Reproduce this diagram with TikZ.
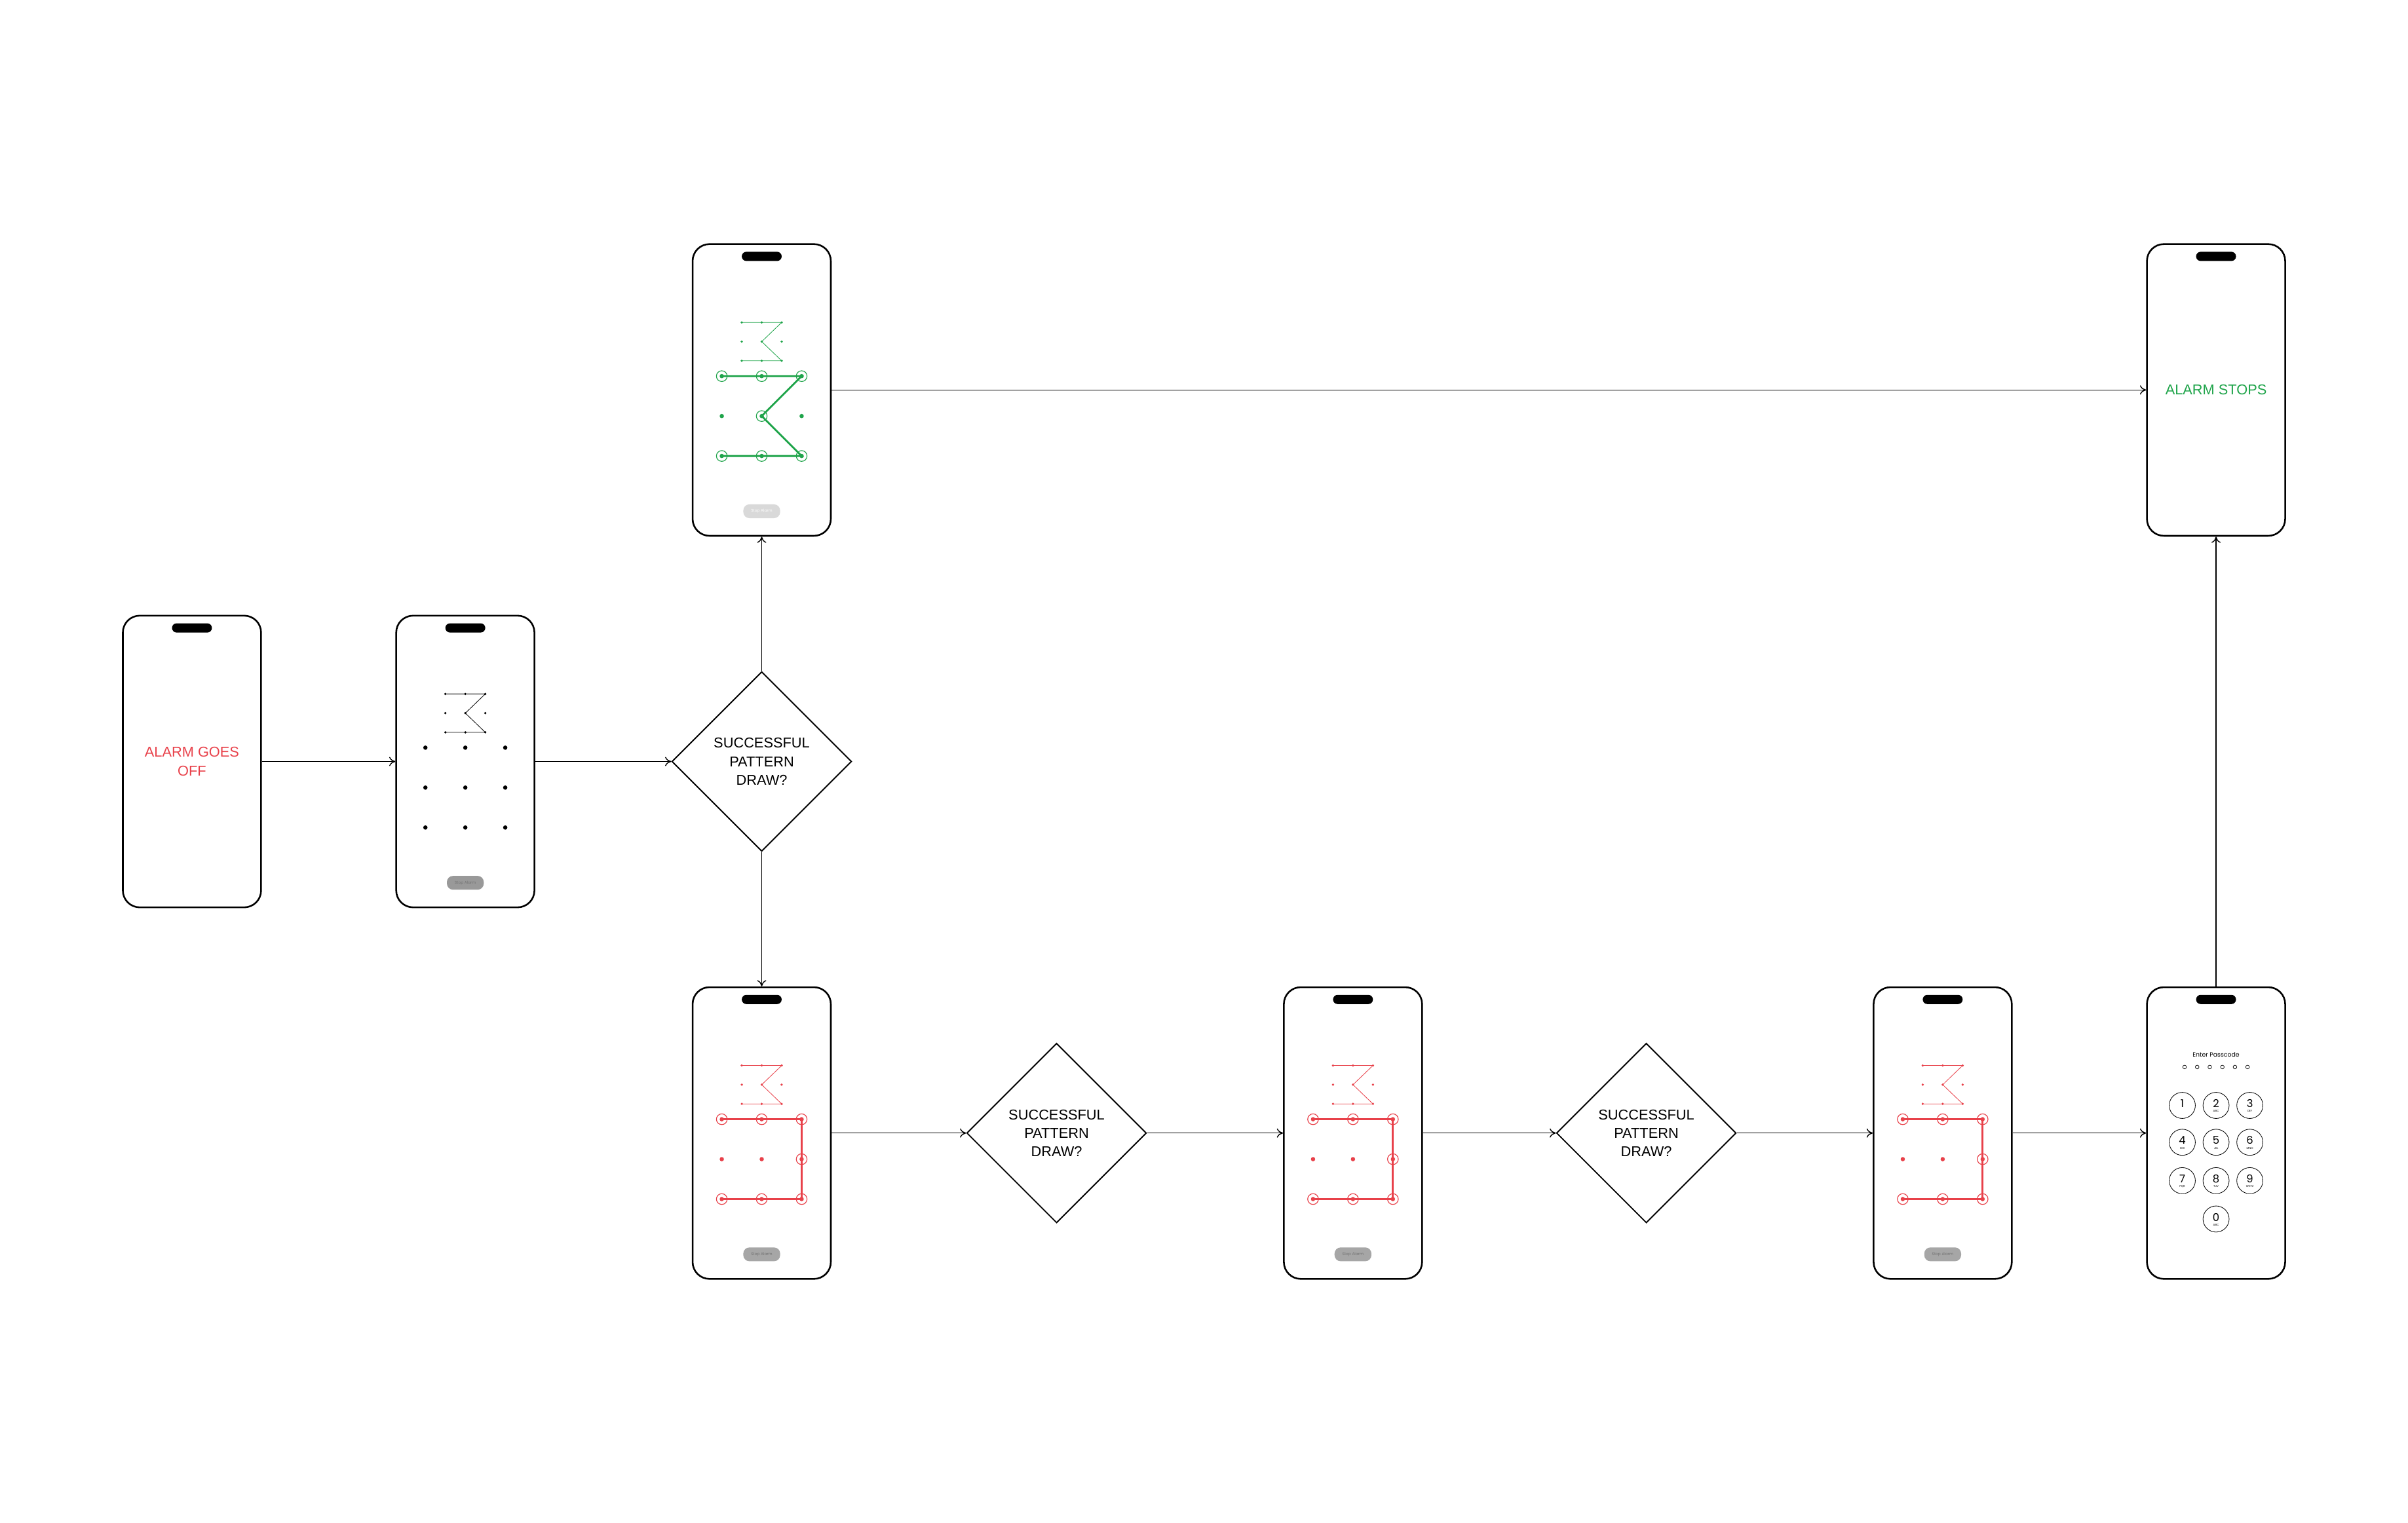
\documentclass[tikz,border=0pt]{standalone}
\usepackage{fontspec}
\setmainfont{Liberation Sans}
\newfontfamily\popf{Poppins}
\usetikzlibrary{shapes.geometric,arrows.meta}
\definecolor{gr}{HTML}{1FA44A}
\definecolor{rd}{HTML}{E8414A}
\tikzset{
 phone/.style={draw,line width=1.1pt,rounded corners=11pt,minimum width=90pt,minimum height=190pt,inner sep=0pt},
 conn/.style={line width=0.6pt,-{To[length=4pt,width=6pt]}},
 dia/.style={draw,diamond,line width=0.8pt,minimum width=117pt,minimum height=117pt,inner sep=0pt,align=center,font=\fontsize{9.3}{12}\selectfont},
 key/.style={draw,circle,line width=0.35pt,minimum size=17pt,inner sep=0pt}
}
\newcommand{\myphone}[3]{\node[phone] (#1) at (#2,#3) {};
 \fill[rounded corners=3pt] (#2-13,#3-90) rectangle (#2+13,#3-84);}
\newcommand{\minipat}[3]{\begin{scope}[shift={(#1,#2)}]
 \draw[#3,line width=0.35pt] (-13,-44)--(13,-44)--(0,-31.5)--(13,-19)--(-13,-19);
 \foreach \x in {-13,0,13}\foreach \y in {-44,-31.5,-19}{\fill[#3] (\x,\y) circle (0.8);}
\end{scope}}
\newcommand{\bigdots}[3]{\begin{scope}[shift={(#1,#2)}]
 \foreach \x in {-26,0,26}\foreach \y in {-9,17,43}{\fill[#3] (\x,\y) circle (1.4);}\end{scope}}
\newcommand{\stopbtn}[4]{\node[fill=#3,rounded corners=4pt,minimum width=24pt,minimum height=9pt,inner sep=0pt,text=#4,font=\popf\fontsize{2.5}{3}\selectfont] at (#1,#2+79) {Stop Alarm};}
\newcommand{\redphone}[3]{\myphone{#1}{#2}{#3}
 \minipat{#2}{#3}{rd}\bigdots{#2}{#3}{rd}
 \begin{scope}[shift={(#2,#3)}]
 \draw[rd,line width=1.2pt] (-26,-9)--(26,-9)--(26,43)--(-26,43);
 \foreach \p in {(-26,-9),(0,-9),(26,-9),(26,17),(-26,43),(0,43),(26,43)}{\draw[rd,line width=0.5pt] \p circle (3.5);}
 \end{scope}
 \stopbtn{#2}{#3}{black!35}{black!55}}
\begin{document}
\begin{tikzpicture}[x=1pt,y=-1pt]
\useasboundingbox (0,0) rectangle (1568,992);
\myphone{p1}{125}{496}
\node[text=rd,align=center,font=\fontsize{9.3}{12}\selectfont] at (125,496) {ALARM GOES\\OFF};
\myphone{p2}{303}{496}
\minipat{303}{496}{black}\bigdots{303}{496}{black}
\stopbtn{303}{496}{black!40}{black!55}
\myphone{ok}{496}{254}
\minipat{496}{254}{gr}\bigdots{496}{254}{gr}
\begin{scope}[shift={(496,254)}]
 \draw[gr,line width=1.2pt] (-26,-9)--(26,-9)--(0,17)--(26,43)--(-26,43);
 \foreach \p in {(-26,-9),(0,-9),(26,-9),(0,17),(-26,43),(0,43),(26,43)}{\draw[gr,line width=0.5pt] \p circle (3.5);}
\end{scope}
\stopbtn{496}{254}{black!15}{white}
\myphone{st}{1443}{254}
\node[text=gr,font=\fontsize{9.3}{11}\selectfont] at (1443,254) {ALARM STOPS};
\redphone{r1}{496}{738}
\redphone{r2}{881}{738}
\redphone{r3}{1265}{738}
\myphone{pc}{1443}{738}
\node[font=\popf\fontsize{4}{5}\selectfont] at (1443,687) {Enter Passcode};
\foreach \i in {0,...,5}{\draw[line width=0.3pt] (1422.5+\i*8.2,695) circle (1.2);}
\foreach \d/\l/\x/\y in {1//-22/-18,2/ABC/0/-18,3/DEF/22/-18,4/GHI/-22/6,5/JKL/0/6,6/MNO/22/6,7/PQR/-22/31,8/TUV/0/31,9/WXYZ/22/31,0/ABC/0/56}{
 \node[key] at (1443+\x,738+\y) {};
 \node[font=\popf\fontsize{7}{7}\selectfont] at (1443+\x,738+\y-1.2) {\d};
 \node[font=\popf\fontsize{1.8}{2}\selectfont] at (1443+\x,738+\y+3.8) {\l};}
\node[dia] (d1) at (496,496) {SUCCESSFUL\\PATTERN\\DRAW?};
\node[dia] (d2) at (688,738) {SUCCESSFUL\\PATTERN\\DRAW?};
\node[dia] (d3) at (1072,738) {SUCCESSFUL\\PATTERN\\DRAW?};
\draw[conn] (p1) -- (p2);
\draw[conn] (p2) -- (d1);
\draw[conn] (d1) -- (ok);
\draw[conn] (d1) -- (r1);
\draw[conn] (ok) -- (st);
\draw[conn] (r1) -- (d2);
\draw[conn] (d2) -- (r2);
\draw[conn] (r2) -- (d3);
\draw[conn] (d3) -- (r3);
\draw[conn] (r3) -- (pc);
\draw[conn] (pc) -- (st);
\end{tikzpicture}
\end{document}
